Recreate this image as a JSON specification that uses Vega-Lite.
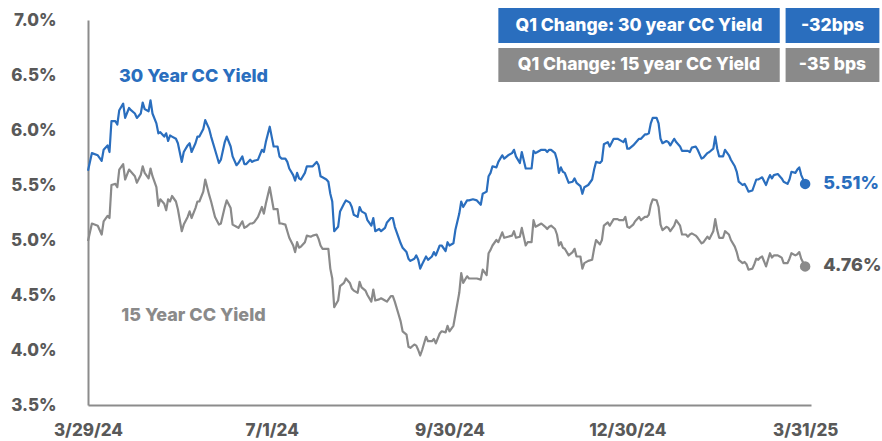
{
  "$schema": "https://vega.github.io/schema/vega-lite/v6.json",
  "width": 723,
  "height": 385,
  "autosize": {"type": "none"},
  "padding": {"left": 88, "top": 20, "right": 71, "bottom": 36},
  "background": "white",
  "config": {"view": {"stroke": null}, "font": "Inter"},
  "datasets": {
    "rates": [
      {"date":"2024-03-29","y30":5.63,"y15":4.99},{"date":"2024-03-31","y30":5.79,"y15":5.15},{"date":"2024-04-03","y30":5.77,"y15":5.13},{"date":"2024-04-05","y30":5.72,"y15":5.05},{"date":"2024-04-06","y30":5.82,"y15":5.17},{"date":"2024-04-08","y30":5.86,"y15":5.22},{"date":"2024-04-09","y30":5.80,"y15":5.20},{"date":"2024-04-10","y30":6.08,"y15":5.50},{"date":"2024-04-12","y30":6.08,"y15":5.51},{"date":"2024-04-13","y30":6.05,"y15":5.48},{"date":"2024-04-14","y30":6.18,"y15":5.64},{"date":"2024-04-16","y30":6.24,"y15":5.69},{"date":"2024-04-17","y30":6.11,"y15":5.55},{"date":"2024-04-19","y30":6.20,"y15":5.64},{"date":"2024-04-20","y30":6.18,"y15":5.62},{"date":"2024-04-22","y30":6.15,"y15":5.58},{"date":"2024-04-23","y30":6.11,"y15":5.52},{"date":"2024-04-25","y30":6.15,"y15":5.59},{"date":"2024-04-26","y30":6.25,"y15":5.67},{"date":"2024-04-27","y30":6.19,"y15":5.61},{"date":"2024-04-29","y30":6.17,"y15":5.56},{"date":"2024-04-30","y30":6.27,"y15":5.65},
      {"date":"2024-05-01","y30":6.15,"y15":5.58},{"date":"2024-05-03","y30":6.06,"y15":5.48},{"date":"2024-05-04","y30":5.97,"y15":5.31},{"date":"2024-05-05","y30":5.98,"y15":5.37},{"date":"2024-05-07","y30":5.94,"y15":5.33},{"date":"2024-05-08","y30":5.97,"y15":5.27},{"date":"2024-05-09","y30":5.90,"y15":5.37},{"date":"2024-05-10","y30":5.95,"y15":5.35},{"date":"2024-05-11","y30":5.94,"y15":5.40},{"date":"2024-05-13","y30":5.92,"y15":5.35},{"date":"2024-05-14","y30":5.88,"y15":5.28},{"date":"2024-05-16","y30":5.71,"y15":5.08},{"date":"2024-05-17","y30":5.80,"y15":5.14},{"date":"2024-05-19","y30":5.86,"y15":5.21},{"date":"2024-05-20","y30":5.88,"y15":5.26},{"date":"2024-05-21","y30":5.80,"y15":5.20},{"date":"2024-05-23","y30":5.88,"y15":5.29},{"date":"2024-05-24","y30":5.94,"y15":5.35},{"date":"2024-05-25","y30":5.94,"y15":5.35},{"date":"2024-05-27","y30":6.01,"y15":5.44},{"date":"2024-05-28","y30":6.09,"y15":5.55},{"date":"2024-05-30","y30":6.01,"y15":5.41},{"date":"2024-05-31","y30":5.94,"y15":5.35},
      {"date":"2024-06-02","y30":5.82,"y15":5.21},{"date":"2024-06-04","y30":5.70,"y15":5.14},{"date":"2024-06-05","y30":5.73,"y15":5.15},{"date":"2024-06-07","y30":5.89,"y15":5.30},{"date":"2024-06-08","y30":5.94,"y15":5.36},{"date":"2024-06-10","y30":5.85,"y15":5.29},{"date":"2024-06-11","y30":5.76,"y15":5.14},{"date":"2024-06-13","y30":5.68,"y15":5.12},{"date":"2024-06-14","y30":5.70,"y15":5.11},{"date":"2024-06-16","y30":5.76,"y15":5.17},{"date":"2024-06-17","y30":5.69,"y15":5.11},{"date":"2024-06-18","y30":5.69,"y15":5.12},{"date":"2024-06-20","y30":5.73,"y15":5.15},{"date":"2024-06-21","y30":5.71,"y15":5.15},{"date":"2024-06-22","y30":5.72,"y15":5.16},{"date":"2024-06-24","y30":5.73,"y15":5.21},{"date":"2024-06-26","y30":5.82,"y15":5.30},{"date":"2024-06-27","y30":5.80,"y15":5.24},{"date":"2024-06-28","y30":5.89,"y15":5.33},{"date":"2024-06-30","y30":6.03,"y15":5.48},
      {"date":"2024-07-01","y30":5.94,"y15":5.38},{"date":"2024-07-02","y30":5.85,"y15":5.28},{"date":"2024-07-04","y30":5.85,"y15":5.28},{"date":"2024-07-05","y30":5.76,"y15":5.15},{"date":"2024-07-06","y30":5.74,"y15":5.15},{"date":"2024-07-08","y30":5.74,"y15":5.14},{"date":"2024-07-09","y30":5.71,"y15":5.08},{"date":"2024-07-10","y30":5.65,"y15":5.02},{"date":"2024-07-12","y30":5.59,"y15":4.95},{"date":"2024-07-13","y30":5.54,"y15":4.89},{"date":"2024-07-14","y30":5.61,"y15":4.98},{"date":"2024-07-15","y30":5.56,"y15":4.93},{"date":"2024-07-16","y30":5.55,"y15":4.94},{"date":"2024-07-18","y30":5.61,"y15":4.98},{"date":"2024-07-19","y30":5.67,"y15":5.04},{"date":"2024-07-21","y30":5.67,"y15":5.03},{"date":"2024-07-22","y30":5.67,"y15":5.04},{"date":"2024-07-24","y30":5.71,"y15":5.05},{"date":"2024-07-25","y30":5.68,"y15":5.01},{"date":"2024-07-26","y30":5.58,"y15":4.95},{"date":"2024-07-27","y30":5.57,"y15":4.92},{"date":"2024-07-29","y30":5.55,"y15":4.92},{"date":"2024-07-30","y30":5.53,"y15":4.92},{"date":"2024-07-31","y30":5.42,"y15":4.74},
      {"date":"2024-08-01","y30":5.35,"y15":4.65},{"date":"2024-08-02","y30":5.08,"y15":4.39},{"date":"2024-08-04","y30":5.12,"y15":4.45},{"date":"2024-08-05","y30":5.26,"y15":4.58},{"date":"2024-08-07","y30":5.33,"y15":4.61},{"date":"2024-08-08","y30":5.36,"y15":4.65},{"date":"2024-08-10","y30":5.34,"y15":4.61},{"date":"2024-08-11","y30":5.30,"y15":4.56},{"date":"2024-08-12","y30":5.23,"y15":4.54},{"date":"2024-08-14","y30":5.21,"y15":4.52},{"date":"2024-08-15","y30":5.30,"y15":4.62},{"date":"2024-08-16","y30":5.26,"y15":4.57},{"date":"2024-08-18","y30":5.24,"y15":4.54},{"date":"2024-08-19","y30":5.18,"y15":4.50},{"date":"2024-08-21","y30":5.13,"y15":4.44},{"date":"2024-08-22","y30":5.20,"y15":4.55},{"date":"2024-08-23","y30":5.08,"y15":4.45},{"date":"2024-08-25","y30":5.10,"y15":4.46},{"date":"2024-08-26","y30":5.08,"y15":4.47},{"date":"2024-08-28","y30":5.11,"y15":4.45},{"date":"2024-08-29","y30":5.16,"y15":4.44},{"date":"2024-08-31","y30":5.20,"y15":4.49},
      {"date":"2024-09-01","y30":5.20,"y15":4.49},{"date":"2024-09-02","y30":5.12,"y15":4.44},{"date":"2024-09-04","y30":5.02,"y15":4.32},{"date":"2024-09-05","y30":4.97,"y15":4.26},{"date":"2024-09-06","y30":4.93,"y15":4.17},{"date":"2024-09-08","y30":4.89,"y15":4.14},{"date":"2024-09-09","y30":4.83,"y15":4.03},{"date":"2024-09-10","y30":4.81,"y15":4.02},{"date":"2024-09-12","y30":4.83,"y15":4.05},{"date":"2024-09-13","y30":4.86,"y15":4.04},{"date":"2024-09-14","y30":4.82,"y15":4.00},{"date":"2024-09-15","y30":4.74,"y15":3.95},{"date":"2024-09-16","y30":4.78,"y15":4.00},{"date":"2024-09-18","y30":4.85,"y15":4.12},{"date":"2024-09-19","y30":4.82,"y15":4.08},{"date":"2024-09-21","y30":4.85,"y15":4.08},{"date":"2024-09-22","y30":4.89,"y15":4.10},{"date":"2024-09-23","y30":4.86,"y15":4.06},{"date":"2024-09-25","y30":4.95,"y15":4.15},{"date":"2024-09-26","y30":4.95,"y15":4.17},{"date":"2024-09-28","y30":4.90,"y15":4.16},{"date":"2024-09-29","y30":4.98,"y15":4.22},{"date":"2024-09-30","y30":4.95,"y15":4.17},
      {"date":"2024-10-02","y30":4.97,"y15":4.22},{"date":"2024-10-03","y30":5.09,"y15":4.32},{"date":"2024-10-05","y30":5.24,"y15":4.52},{"date":"2024-10-06","y30":5.35,"y15":4.70},{"date":"2024-10-07","y30":5.30,"y15":4.61},{"date":"2024-10-09","y30":5.36,"y15":4.67},{"date":"2024-10-10","y30":5.36,"y15":4.65},{"date":"2024-10-12","y30":5.37,"y15":4.65},{"date":"2024-10-14","y30":5.36,"y15":4.65},{"date":"2024-10-16","y30":5.32,"y15":4.64},{"date":"2024-10-17","y30":5.42,"y15":4.73},{"date":"2024-10-19","y30":5.44,"y15":4.68},{"date":"2024-10-20","y30":5.58,"y15":4.88},{"date":"2024-10-21","y30":5.61,"y15":4.91},{"date":"2024-10-22","y30":5.67,"y15":4.95},{"date":"2024-10-24","y30":5.66,"y15":5.00},{"date":"2024-10-25","y30":5.71,"y15":4.98},{"date":"2024-10-27","y30":5.77,"y15":5.07},{"date":"2024-10-28","y30":5.74,"y15":5.02},{"date":"2024-10-30","y30":5.77,"y15":5.03},
      {"date":"2024-11-01","y30":5.79,"y15":5.04},{"date":"2024-11-02","y30":5.82,"y15":5.08},{"date":"2024-11-03","y30":5.76,"y15":5.02},{"date":"2024-11-05","y30":5.70,"y15":5.03},{"date":"2024-11-06","y30":5.80,"y15":5.11},{"date":"2024-11-08","y30":5.65,"y15":4.95},{"date":"2024-11-09","y30":5.65,"y15":4.98},{"date":"2024-11-11","y30":5.65,"y15":4.98},{"date":"2024-11-12","y30":5.81,"y15":5.18},{"date":"2024-11-13","y30":5.79,"y15":5.12},{"date":"2024-11-14","y30":5.80,"y15":5.13},{"date":"2024-11-16","y30":5.82,"y15":5.15},{"date":"2024-11-18","y30":5.82,"y15":5.12},{"date":"2024-11-19","y30":5.80,"y15":5.10},{"date":"2024-11-20","y30":5.82,"y15":5.12},{"date":"2024-11-21","y30":5.82,"y15":5.13},{"date":"2024-11-23","y30":5.79,"y15":5.10},{"date":"2024-11-24","y30":5.73,"y15":5.05},{"date":"2024-11-25","y30":5.61,"y15":4.95},{"date":"2024-11-26","y30":5.66,"y15":4.98},{"date":"2024-11-27","y30":5.62,"y15":4.93},{"date":"2024-11-28","y30":5.61,"y15":4.92},{"date":"2024-11-30","y30":5.52,"y15":4.86},
      {"date":"2024-12-02","y30":5.53,"y15":4.89},{"date":"2024-12-03","y30":5.56,"y15":4.92},{"date":"2024-12-04","y30":5.52,"y15":4.85},{"date":"2024-12-06","y30":5.49,"y15":4.85},{"date":"2024-12-07","y30":5.42,"y15":4.74},{"date":"2024-12-08","y30":5.48,"y15":4.79},{"date":"2024-12-10","y30":5.50,"y15":4.81},{"date":"2024-12-12","y30":5.55,"y15":4.82},{"date":"2024-12-13","y30":5.64,"y15":4.92},{"date":"2024-12-14","y30":5.71,"y15":5.00},{"date":"2024-12-16","y30":5.70,"y15":4.96},{"date":"2024-12-17","y30":5.72,"y15":5.00},{"date":"2024-12-18","y30":5.87,"y15":5.13},{"date":"2024-12-20","y30":5.89,"y15":5.16},{"date":"2024-12-21","y30":5.85,"y15":5.13},{"date":"2024-12-23","y30":5.92,"y15":5.19},{"date":"2024-12-25","y30":5.92,"y15":5.19},{"date":"2024-12-26","y30":5.91,"y15":5.18},{"date":"2024-12-28","y30":5.89,"y15":5.18},{"date":"2024-12-29","y30":5.92,"y15":5.21},{"date":"2024-12-30","y30":5.83,"y15":5.12},{"date":"2024-12-31","y30":5.83,"y15":5.11},
      {"date":"2025-01-02","y30":5.86,"y15":5.14},{"date":"2025-01-03","y30":5.88,"y15":5.17},{"date":"2025-01-05","y30":5.92,"y15":5.21},{"date":"2025-01-06","y30":5.92,"y15":5.18},{"date":"2025-01-08","y30":5.96,"y15":5.21},{"date":"2025-01-09","y30":5.96,"y15":5.21},{"date":"2025-01-10","y30":5.97,"y15":5.23},{"date":"2025-01-11","y30":6.06,"y15":5.32},{"date":"2025-01-12","y30":6.11,"y15":5.37},{"date":"2025-01-14","y30":6.11,"y15":5.36},{"date":"2025-01-15","y30":6.06,"y15":5.30},{"date":"2025-01-16","y30":5.92,"y15":5.14},{"date":"2025-01-17","y30":5.88,"y15":5.09},{"date":"2025-01-19","y30":5.90,"y15":5.12},{"date":"2025-01-20","y30":5.89,"y15":5.11},{"date":"2025-01-21","y30":5.86,"y15":5.08},{"date":"2025-01-23","y30":5.92,"y15":5.13},{"date":"2025-01-24","y30":5.89,"y15":5.18},{"date":"2025-01-26","y30":5.85,"y15":5.13},{"date":"2025-01-27","y30":5.81,"y15":5.05},{"date":"2025-01-29","y30":5.81,"y15":5.05},{"date":"2025-01-30","y30":5.81,"y15":5.03},{"date":"2025-01-31","y30":5.80,"y15":5.05},
      {"date":"2025-02-01","y30":5.84,"y15":5.06},{"date":"2025-02-03","y30":5.85,"y15":5.04},{"date":"2025-02-04","y30":5.82,"y15":5.02},{"date":"2025-02-06","y30":5.74,"y15":4.97},{"date":"2025-02-07","y30":5.75,"y15":4.98},{"date":"2025-02-09","y30":5.79,"y15":5.03},{"date":"2025-02-10","y30":5.80,"y15":5.01},{"date":"2025-02-12","y30":5.83,"y15":5.08},{"date":"2025-02-13","y30":5.94,"y15":5.19},{"date":"2025-02-14","y30":5.83,"y15":5.09},{"date":"2025-02-15","y30":5.76,"y15":5.02},{"date":"2025-02-17","y30":5.76,"y15":5.02},{"date":"2025-02-18","y30":5.82,"y15":5.08},{"date":"2025-02-20","y30":5.77,"y15":5.05},{"date":"2025-02-21","y30":5.73,"y15":5.00},{"date":"2025-02-23","y30":5.67,"y15":4.94},{"date":"2025-02-24","y30":5.62,"y15":4.89},{"date":"2025-02-25","y30":5.53,"y15":4.82},{"date":"2025-02-27","y30":5.50,"y15":4.79},{"date":"2025-02-28","y30":5.51,"y15":4.80},
      {"date":"2025-03-01","y30":5.48,"y15":4.78},{"date":"2025-03-02","y30":5.44,"y15":4.73},{"date":"2025-03-04","y30":5.45,"y15":4.74},{"date":"2025-03-05","y30":5.50,"y15":4.78},{"date":"2025-03-06","y30":5.55,"y15":4.83},{"date":"2025-03-07","y30":5.55,"y15":4.82},{"date":"2025-03-08","y30":5.56,"y15":4.84},{"date":"2025-03-09","y30":5.57,"y15":4.85},{"date":"2025-03-11","y30":5.50,"y15":4.76},{"date":"2025-03-12","y30":5.55,"y15":4.82},{"date":"2025-03-13","y30":5.59,"y15":4.88},{"date":"2025-03-14","y30":5.56,"y15":4.84},{"date":"2025-03-15","y30":5.59,"y15":4.86},{"date":"2025-03-17","y30":5.60,"y15":4.86},{"date":"2025-03-18","y30":5.58,"y15":4.85},{"date":"2025-03-19","y30":5.56,"y15":4.84},{"date":"2025-03-20","y30":5.53,"y15":4.79},{"date":"2025-03-22","y30":5.51,"y15":4.79},{"date":"2025-03-23","y30":5.55,"y15":4.83},{"date":"2025-03-24","y30":5.62,"y15":4.88},{"date":"2025-03-26","y30":5.61,"y15":4.86},{"date":"2025-03-27","y30":5.64,"y15":4.87},{"date":"2025-03-28","y30":5.66,"y15":4.89},{"date":"2025-03-29","y30":5.59,"y15":4.83},{"date":"2025-03-31","y30":5.51,"y15":4.76}
    ],
    "ends": [
      {"date":"2025-03-31","yield":5.51,"series":"y30","label":"5.51%"},
      {"date":"2025-03-31","yield":4.76,"series":"y15","label":"4.76%"}
    ],
    "notes": [
      {"date":"2024-05-22","yield":6.48,"series":"y30","text":"30 Year CC Yield"},
      {"date":"2024-05-22","yield":4.31,"series":"y15","text":"15 Year CC Yield"}
    ],
    "boxes": [
      {"start":"2024-10-25","end":"2025-03-18","top":7.109,"bottom":6.791,"mid":"2025-01-05","center":6.95,"series":"y30","text":"Q1 Change: 30 year CC Yield"},
      {"start":"2025-03-21","end":"2025-05-08","top":7.109,"bottom":6.791,"mid":"2025-04-14","center":6.95,"series":"y30","text":"-32bps"},
      {"start":"2024-10-25","end":"2025-03-18","top":6.745,"bottom":6.436,"mid":"2025-01-05","center":6.59,"series":"y15","text":"Q1 Change: 15 year CC Yield"},
      {"start":"2025-03-21","end":"2025-05-08","top":6.745,"bottom":6.436,"mid":"2025-04-14","center":6.59,"series":"y15","text":"-35 bps"}
    ]
  },
  "layer": [
    {
      "data": {"name": "rates"},
      "transform": [{"fold": ["y30", "y15"], "as": ["series", "yield"]}],
      "mark": {"type": "line", "strokeWidth": 2.2, "strokeJoin": "round", "clip": false},
      "encoding": {
        "x": {
          "field": "date", "type": "temporal", "title": null,
          "scale": {"type": "utc", "nice": false, "domain": [{"year": 2024, "month": 3, "date": 29, "utc": true}, {"year": 2025, "month": 4, "date": 3, "utc": true}]},
          "axis": {
            "values": [
              {"year": 2024, "month": 3, "date": 29, "utc": true},
              {"year": 2024, "month": 7, "date": 1, "utc": true},
              {"year": 2024, "month": 9, "date": 30, "utc": true},
              {"year": 2024, "month": 12, "date": 30, "utc": true},
              {"year": 2025, "month": 3, "date": 31, "utc": true}
            ],
            "labelExpr": "utcFormat(datum.value, '%-m/%-d/%y')",
            "grid": false, "ticks": false, "labelPadding": 17, "labelFlush": false, "labelOverlap": false,
            "labelFont": "Inter", "labelFontSize": 17, "labelFontWeight": 800, "labelColor": "#595959",
            "domainColor": "#8c8c8c", "domainWidth": 2
          }
        },
        "y": {
          "field": "yield", "type": "quantitative", "title": null,
          "scale": {"domain": [3.5, 7.0], "nice": false, "zero": false},
          "axis": {
            "values": [3.5, 4.0, 4.5, 5.0, 5.5, 6.0, 6.5, 7.0],
            "labelExpr": "format(datum.value, '.1f') + '%'",
            "grid": false, "ticks": false, "labelPadding": 32, "labelFlush": false, "labelOverlap": false,
            "labelFont": "Inter", "labelFontSize": 17, "labelFontWeight": 800, "labelColor": "#595959",
            "domainColor": "#8c8c8c", "domainWidth": 2
          }
        },
        "color": {"field": "series", "type": "nominal", "legend": null, "scale": {"domain": ["y30", "y15"], "range": ["#2a6ebe", "#8a8a8a"]}}
      }
    },
    {
      "data": {"name": "ends"},
      "mark": {"type": "circle", "size": 110, "opacity": 1, "clip": false},
      "encoding": {
        "x": {"field": "date", "type": "temporal", "title": null},
        "y": {"field": "yield", "type": "quantitative", "title": null},
        "color": {"field": "series", "type": "nominal", "legend": null}
      }
    },
    {
      "data": {"name": "ends"},
      "transform": [{"filter": "datum.series == 'y30'"}],
      "mark": {"type": "text", "align": "left", "baseline": "middle", "dx": 18, "font": "Inter", "fontSize": 18, "fontWeight": 800, "color": "#2a6ebe", "clip": false},
      "encoding": {
        "x": {"field": "date", "type": "temporal", "title": null},
        "y": {"field": "yield", "type": "quantitative", "title": null},
        "text": {"field": "label"}
      }
    },
    {
      "data": {"name": "ends"},
      "transform": [{"filter": "datum.series == 'y15'"}],
      "mark": {"type": "text", "align": "left", "baseline": "middle", "dx": 18, "font": "Inter", "fontSize": 18, "fontWeight": 800, "color": "#595959", "clip": false},
      "encoding": {
        "x": {"field": "date", "type": "temporal", "title": null},
        "y": {"field": "yield", "type": "quantitative", "title": null},
        "text": {"field": "label"}
      }
    },
    {
      "data": {"name": "notes"},
      "mark": {"type": "text", "align": "center", "baseline": "middle", "font": "Inter", "fontSize": 18, "fontWeight": 800, "clip": false},
      "encoding": {
        "x": {"field": "date", "type": "temporal", "title": null},
        "y": {"field": "yield", "type": "quantitative", "title": null},
        "text": {"field": "text"},
        "color": {"field": "series", "type": "nominal", "legend": null}
      }
    },
    {
      "data": {"name": "boxes"},
      "mark": {"type": "rect", "clip": false},
      "encoding": {
        "x": {"field": "start", "type": "temporal", "title": null},
        "x2": {"field": "end"},
        "y": {"field": "top", "type": "quantitative", "title": null},
        "y2": {"field": "bottom"},
        "color": {"field": "series", "type": "nominal", "legend": null}
      }
    },
    {
      "data": {"name": "boxes"},
      "mark": {"type": "text", "align": "center", "baseline": "middle", "font": "Inter", "fontSize": 17.5, "fontWeight": 800, "color": "white", "clip": false},
      "encoding": {
        "x": {"field": "mid", "type": "temporal", "title": null},
        "y": {"field": "center", "type": "quantitative", "title": null},
        "text": {"field": "text"}
      }
    }
  ]
}
